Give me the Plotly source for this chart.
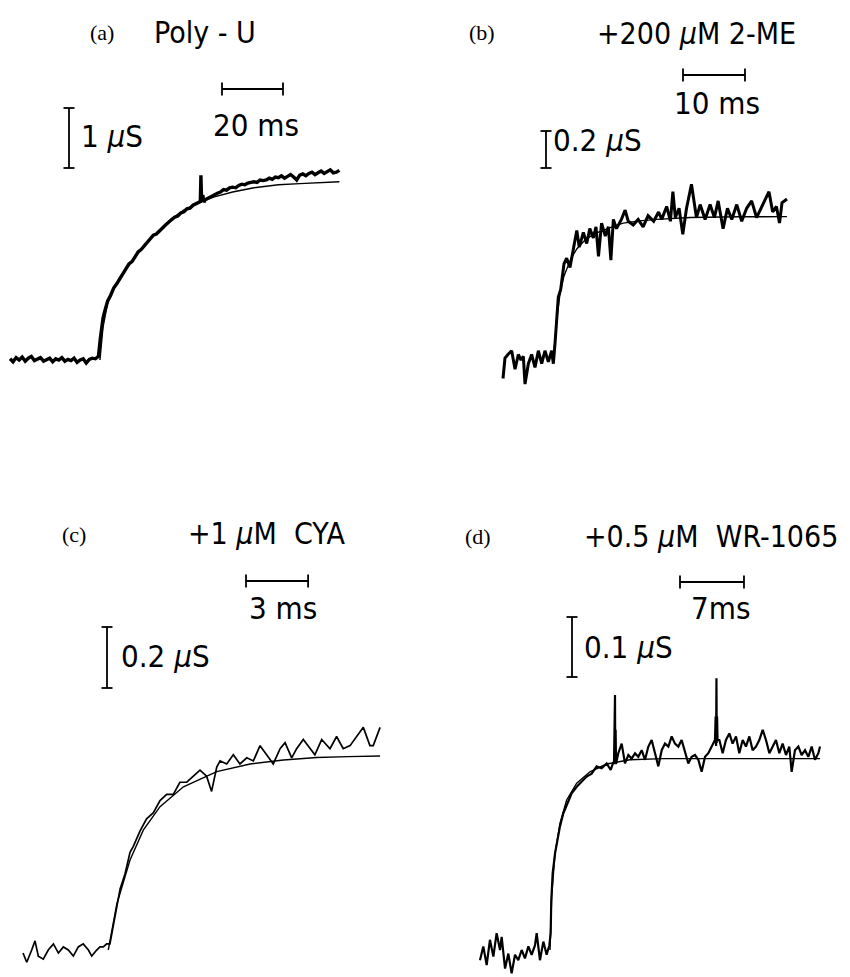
import plotly.graph_objects as go

W, H = 850, 977

# ---------------- data (time in ms, conductance in µS) ----------------
# (a) Poly-U
T_A = [0, 1, 2, 3, 4, 5, 6, 7, 8, 9, 10, 11, 12, 13, 14, 15, 16, 17, 18, 19, 20, 21, 22, 23, 24, 25, 26, 27, 28, 29,
       29.6, 30, 30.5, 31, 32, 33, 34, 35, 36, 37, 38, 39, 40, 41, 42, 43, 44, 45, 46, 47, 48, 49, 50, 51, 52, 53,
       54, 55, 56, 57, 58, 59, 60, 61, 62, 62.4, 62.6, 62.8, 63.2, 63.6, 64, 65, 66, 67, 68, 69, 70, 71, 72, 73, 74,
       75, 76, 77, 78, 79, 80, 81, 82, 83, 84, 85, 86, 87, 88, 89, 90, 91, 92, 93, 94, 95, 96, 97, 98, 99, 100, 101,
       102, 103, 104, 105, 106, 107, 108]
G_A = [0.02, -0.03, 0.04, 0.00, 0.05, -0.02, 0.03, 0.06, -0.01, 0.02, 0.04, -0.02, 0.01, 0.03, -0.03, 0.02, 0.00,
       0.04, -0.02, 0.01, -0.01, 0.03, -0.04, 0.00, 0.02, -0.05, 0.01, 0.03, 0.02, 0.06,
       0.35, 0.55, 0.70, 0.80, 0.98, 1.08, 1.20, 1.27, 1.36, 1.45, 1.52, 1.60, 1.64, 1.72, 1.80, 1.84, 1.90, 1.96,
       2.00, 2.08, 2.10, 2.16, 2.20, 2.25, 2.30, 2.34, 2.38, 2.40, 2.45, 2.47, 2.52, 2.53, 2.58, 2.60, 2.62, 2.64,
       3.08, 2.66, 2.75, 2.63, 2.67, 2.70, 2.73, 2.75, 2.78, 2.80, 2.84, 2.83, 2.87, 2.88, 2.87, 2.91, 2.93, 2.92,
       2.95, 2.96, 2.97, 2.96, 3.00, 2.99, 3.00, 3.03, 3.01, 3.05, 3.04, 3.07, 3.03, 3.06, 3.09, 3.05, 3.00, 3.08,
       3.10, 3.07, 3.11, 3.13, 3.09, 3.12, 3.15, 3.11, 3.14, 3.17, 3.12, 3.13, 3.16]
FIT_T_A = [29.5, 30.5, 32, 33.8, 36, 38.4, 40.5, 42.6, 45, 48.2, 51, 53.4, 57, 62.3, 67, 73, 80, 88, 95, 102, 108]
FIT_G_A = [0.0, 0.55, 0.95, 1.17, 1.38, 1.55, 1.70, 1.83, 1.97, 2.12, 2.26, 2.37, 2.50, 2.63, 2.72, 2.80, 2.87,
           2.92, 2.94, 2.96, 2.97]

# (b) +200 µM 2-ME
T_B = [0.0, 0.32, 0.8, 1.40, 1.94, 2.2, 2.47, 2.9, 3.28, 3.55, 4.09, 4.62, 5.16, 5.70, 6.24, 6.77, 7.31, 7.85,
       8.12, 8.39, 8.66, 8.92, 9.3, 9.46, 9.84, 10.27, 10.8, 11.35, 11.9, 12.3, 12.96, 13.5, 14.0, 14.57, 15.0,
       15.4, 15.9, 16.5, 17.0, 17.4, 17.8, 18.3, 19.1, 19.7, 20.2, 21.0, 21.8, 22.6, 23.4, 24.3, 25.1, 25.6, 26.4,
       27.0, 27.4, 27.8, 28.4, 29.0, 29.6, 30.4, 30.8, 31.2, 31.8, 32.6, 33.4, 34.1, 34.7, 35.5, 36.2, 36.9, 37.7,
       38.5, 39.3, 40.1, 40.9, 41.5, 42.1, 42.9, 43.5, 44.1, 44.6, 45.0, 45.8]
G_B = [-0.10, 0.01, 0.03, 0.05, -0.05, 0.00, 0.03, 0.00, 0.02, -0.13, -0.02, 0.03, -0.04, 0.05, -0.02, 0.05, -0.01,
       0.05, -0.02, 0.09, 0.23, 0.34, 0.38, 0.43, 0.52, 0.55, 0.50, 0.60, 0.70, 0.61, 0.69, 0.63, 0.71, 0.66, 0.72,
       0.56, 0.74, 0.67, 0.72, 0.54, 0.76, 0.71, 0.76, 0.81, 0.75, 0.73, 0.76, 0.72, 0.78, 0.75, 0.80, 0.76, 0.83,
       0.75, 0.91, 0.77, 0.82, 0.68, 0.82, 0.95, 0.85, 0.77, 0.84, 0.76, 0.84, 0.77, 0.86, 0.71, 0.82, 0.76, 0.84,
       0.75, 0.82, 0.86, 0.77, 0.81, 0.85, 0.91, 0.80, 0.83, 0.74, 0.85, 0.87]
FIT_T_B = [8.12, 8.66, 9.2, 9.8, 10.27, 11.0, 11.9, 13.0, 14.0, 15.3, 16.7, 18.0, 19.4, 22.0, 24.8, 30.2, 38.0, 45.8]
FIT_G_B = [0.0, 0.22, 0.36, 0.45, 0.49, 0.55, 0.60, 0.64, 0.667, 0.69, 0.707, 0.725, 0.74, 0.752, 0.76, 0.77,
           0.774, 0.775]

# (c) +1 µM CYA
T_C = [0.0, 0.18, 0.42, 0.58, 0.74, 0.98, 1.22, 1.47, 1.71, 1.95, 2.19, 2.43, 2.67, 2.91, 3.16, 3.32, 3.56, 3.72,
       3.88, 4.04, 4.2, 4.36, 4.53, 4.69, 4.93, 5.17, 5.33, 5.65, 5.97, 6.3, 6.62, 6.94, 7.26, 7.58, 7.91, 8.23,
       8.55, 8.87, 9.11, 9.36, 9.52, 9.84, 10.16, 10.48, 10.81, 11.13, 11.45, 11.77, 12.09, 12.42, 12.66, 12.98,
       13.22, 13.54, 13.86, 14.1, 14.43, 14.83, 15.15, 15.47, 15.8, 16.12, 16.44, 16.76, 16.92, 17.25]
G_C = [-0.01, -0.04, 0.00, 0.03, -0.02, -0.03, 0.00, 0.02, -0.01, 0.01, 0.00, -0.02, 0.01, 0.02, 0.00, -0.02, 0.00,
       0.01, 0.01, 0.02, 0.02, 0.08, 0.14, 0.20, 0.25, 0.32, 0.34, 0.39, 0.43, 0.45, 0.49, 0.51, 0.51, 0.55, 0.55,
       0.57, 0.59, 0.57, 0.52, 0.60, 0.62, 0.61, 0.64, 0.61, 0.63, 0.62, 0.67, 0.64, 0.61, 0.66, 0.68, 0.63, 0.66,
       0.69, 0.66, 0.64, 0.69, 0.66, 0.70, 0.66, 0.67, 0.70, 0.73, 0.67, 0.67, 0.73]
FIT_T_C = [4.12, 4.53, 5.17, 5.81, 6.62, 7.75, 9.36, 10.97, 12.58, 14.19, 15.7, 17.25]
FIT_G_C = [0.0, 0.15, 0.295, 0.393, 0.47, 0.535, 0.585, 0.61, 0.623, 0.631, 0.634, 0.636]

# (d) +0.5 µM WR-1065
T_D = [0.0, 0.36, 0.73, 1.09, 1.46, 1.82, 2.19, 2.37, 2.74, 3.10, 3.46, 3.83, 4.19, 4.56, 4.92, 5.29, 5.65, 6.02,
       6.20, 6.56, 6.93, 7.29, 7.59, 7.73, 7.80, 7.95, 8.21, 8.46, 8.75, 9.12, 9.56, 10.03, 10.58, 11.12, 11.67,
       12.22, 12.76, 13.31, 13.86, 14.30, 14.59, 14.66, 14.70, 14.74, 14.77, 14.80, 14.84, 14.88, 15.13, 15.50,
       15.86, 16.23, 16.59, 16.96, 17.32, 17.69, 18.05, 18.42, 18.78, 19.15, 19.51, 19.88, 20.24, 20.61, 20.97,
       21.33, 21.70, 22.06, 22.43, 22.79, 23.16, 23.52, 23.89, 24.25, 24.62, 24.98, 25.35, 25.71, 25.78, 25.83,
       25.87, 25.90, 25.94, 25.99, 26.19, 26.55, 26.91, 27.28, 27.64, 28.01, 28.37, 28.74, 29.10, 29.47, 29.83,
       30.20, 30.56, 30.93, 31.29, 31.66, 32.02, 32.38, 32.75, 33.11, 33.48, 33.84, 34.10, 34.46, 34.83, 35.19,
       35.56, 35.92, 36.29, 36.65, 37.02, 37.20]
G_D = [-0.017, 0.006, -0.025, 0.017, -0.011, 0.028, 0.0, 0.022, -0.031, -0.006, -0.039, -0.008, -0.017, 0.0,
       -0.014, 0.006, -0.008, 0.008, 0.028, -0.017, 0.014, -0.008, 0.008, 0.028, 0.083, 0.128, 0.161, 0.183, 0.206,
       0.228, 0.244, 0.261, 0.272, 0.280, 0.289, 0.294, 0.306, 0.303, 0.311, 0.300, 0.313, 0.31, 0.367, 0.315,
       0.425, 0.32, 0.367, 0.31, 0.328, 0.344, 0.311, 0.325, 0.319, 0.328, 0.322, 0.333, 0.317, 0.339, 0.350, 0.328,
       0.306, 0.333, 0.344, 0.339, 0.356, 0.344, 0.339, 0.350, 0.328, 0.311, 0.322, 0.325, 0.317, 0.297, 0.322,
       0.328, 0.339, 0.350, 0.389, 0.34, 0.453, 0.345, 0.389, 0.35, 0.350, 0.328, 0.350, 0.361, 0.344, 0.356,
       0.328, 0.350, 0.339, 0.356, 0.333, 0.339, 0.350, 0.367, 0.350, 0.328, 0.339, 0.350, 0.328, 0.344, 0.325,
       0.339, 0.297, 0.333, 0.339, 0.325, 0.333, 0.322, 0.339, 0.317, 0.328, 0.339]
FIT_T_D = [7.66, 7.84, 8.21, 8.75, 9.48, 10.58, 12.03, 13.86, 16.41, 20.06, 37.2]
FIT_G_D = [0.0, 0.089, 0.161, 0.211, 0.25, 0.278, 0.297, 0.31, 0.317, 0.319, 0.319]

PANEL_LETTERS = ["(a)", "(b)", "(c)", "(d)"]
PANEL_TITLES = ["Poly - U", "+200 <i>µ</i>M 2-ME", "+1 <i>µ</i>M  CYA", "+0.5 <i>µ</i>M  WR-1065"]
TIME_BARS_MS = [20, 10, 3, 7]
TIME_LABELS = ["20 ms", "10 ms", "3 ms", "7ms"]
COND_BARS_US = [1, 0.2, 0.2, 0.1]
COND_LABELS = ["1 <i>µ</i>S", "0.2 <i>µ</i>S", "0.2 <i>µ</i>S", "0.1 <i>µ</i>S"]

# ---------------- layout / calibration (pixel placement) ----------------
# per panel: pixel x of t=0, px per ms, pixel y of G=0, px per µS
CAL = [(10, 3.05, 360, 60), (503, 6.2, 360, 185), (23, 20.7, 950, 305), (480, 9.14, 950, 600)]
LETTER_POS = [(102, 33), (482, 33), (74, 534), (478, 536)]
TITLE_POS = [(152, 33), (595, 34), (186, 533), (582, 536)]
TBAR_POS = [(222, 89), (683, 75), (246, 581), (680, 582)]
TLAB_POS = [(211, 125), (672, 103), (247, 608), (689, 608)]
CBAR_POS = [(69, 168), (546, 168), (107, 688), (572, 677)]
CLAB_POS = [(79, 136), (551, 140), (119, 656), (582, 647)]
TRACE_W = [3.4, 3.0, 1.7, 2.2]

traces = [(T_A, G_A, FIT_T_A, FIT_G_A), (T_B, G_B, FIT_T_B, FIT_G_B),
          (T_C, G_C, FIT_T_C, FIT_G_C), (T_D, G_D, FIT_T_D, FIT_G_D)]

fig = go.Figure()
SANS = "Liberation Sans Narrow, DejaVu Sans Condensed, Arial Narrow, sans-serif"
SERIF = "Liberation Serif, DejaVu Serif, serif"
shapes = []
annotations = []


def to_data(i, px, py):
    x0, kx, y0, ky = CAL[i]
    return (px - x0) / kx, (y0 - py) / ky


for i, (t, g, ft, fg) in enumerate(traces):
    sfx = "" if i == 0 else str(i + 1)
    xa, ya = "x" + sfx, "y" + sfx
    fig.add_trace(go.Scatter(x=t, y=g, mode="lines", xaxis=xa, yaxis=ya,
                             line=dict(color="black", width=TRACE_W[i]), showlegend=False, hoverinfo="skip"))
    fig.add_trace(go.Scatter(x=ft, y=fg, mode="lines", xaxis=xa, yaxis=ya,
                             line=dict(color="black", width=1.4), showlegend=False, hoverinfo="skip"))
    x0, kx, y0, ky = CAL[i]
    xr = [(0 - x0) / kx, (W - x0) / kx]
    yr = [(y0 - H) / ky, y0 / ky]
    xkey = "xaxis" + sfx
    ykey = "yaxis" + sfx
    xa_d = dict(domain=[0, 1], range=xr, visible=False, fixedrange=True, anchor=ya)
    ya_d = dict(domain=[0, 1], range=yr, visible=False, fixedrange=True, anchor=xa)
    if i > 0:
        xa_d["overlaying"] = "x"
        ya_d["overlaying"] = "y"
    fig.update_layout(**{xkey: xa_d, ykey: ya_d})

    # time scale bar
    tx, ty = to_data(i, *TBAR_POS[i])
    cap_g = 6.5 / ky
    line = dict(color="black", width=1.8)
    shapes.append(dict(type="line", xref=xa, yref=ya, x0=tx, x1=tx + TIME_BARS_MS[i], y0=ty, y1=ty, line=line))
    for xx in (tx, tx + TIME_BARS_MS[i]):
        shapes.append(dict(type="line", xref=xa, yref=ya, x0=xx, x1=xx, y0=ty - cap_g, y1=ty + cap_g, line=line))
    # conductance scale bar
    cx, cy = to_data(i, *CBAR_POS[i])
    cap_t = 5.5 / kx
    shapes.append(dict(type="line", xref=xa, yref=ya, x0=cx, x1=cx, y0=cy, y1=cy + COND_BARS_US[i], line=line))
    for yy in (cy, cy + COND_BARS_US[i]):
        shapes.append(dict(type="line", xref=xa, yref=ya, x0=cx - cap_t, x1=cx + cap_t, y0=yy, y1=yy, line=line))

    def ann(text, pos, size, family, anchor="left"):
        annotations.append(dict(text=text, x=pos[0] / W, y=1 - pos[1] / H, xref="paper", yref="paper",
                                xanchor=anchor, yanchor="middle", showarrow=False,
                                font=dict(family=family, size=size, color="black")))

    ann(PANEL_LETTERS[i], LETTER_POS[i], 22, SERIF, "center")
    ann(PANEL_TITLES[i], TITLE_POS[i], 30, SANS)
    ann(TIME_LABELS[i], TLAB_POS[i], 31, SANS)
    ann(COND_LABELS[i], CLAB_POS[i], 31, SANS)

fig.update_layout(width=W, height=H, margin=dict(l=0, r=0, t=0, b=0), paper_bgcolor="white",
                  plot_bgcolor="white", shapes=shapes, annotations=annotations, showlegend=False)
fig.write_html("out.html")
